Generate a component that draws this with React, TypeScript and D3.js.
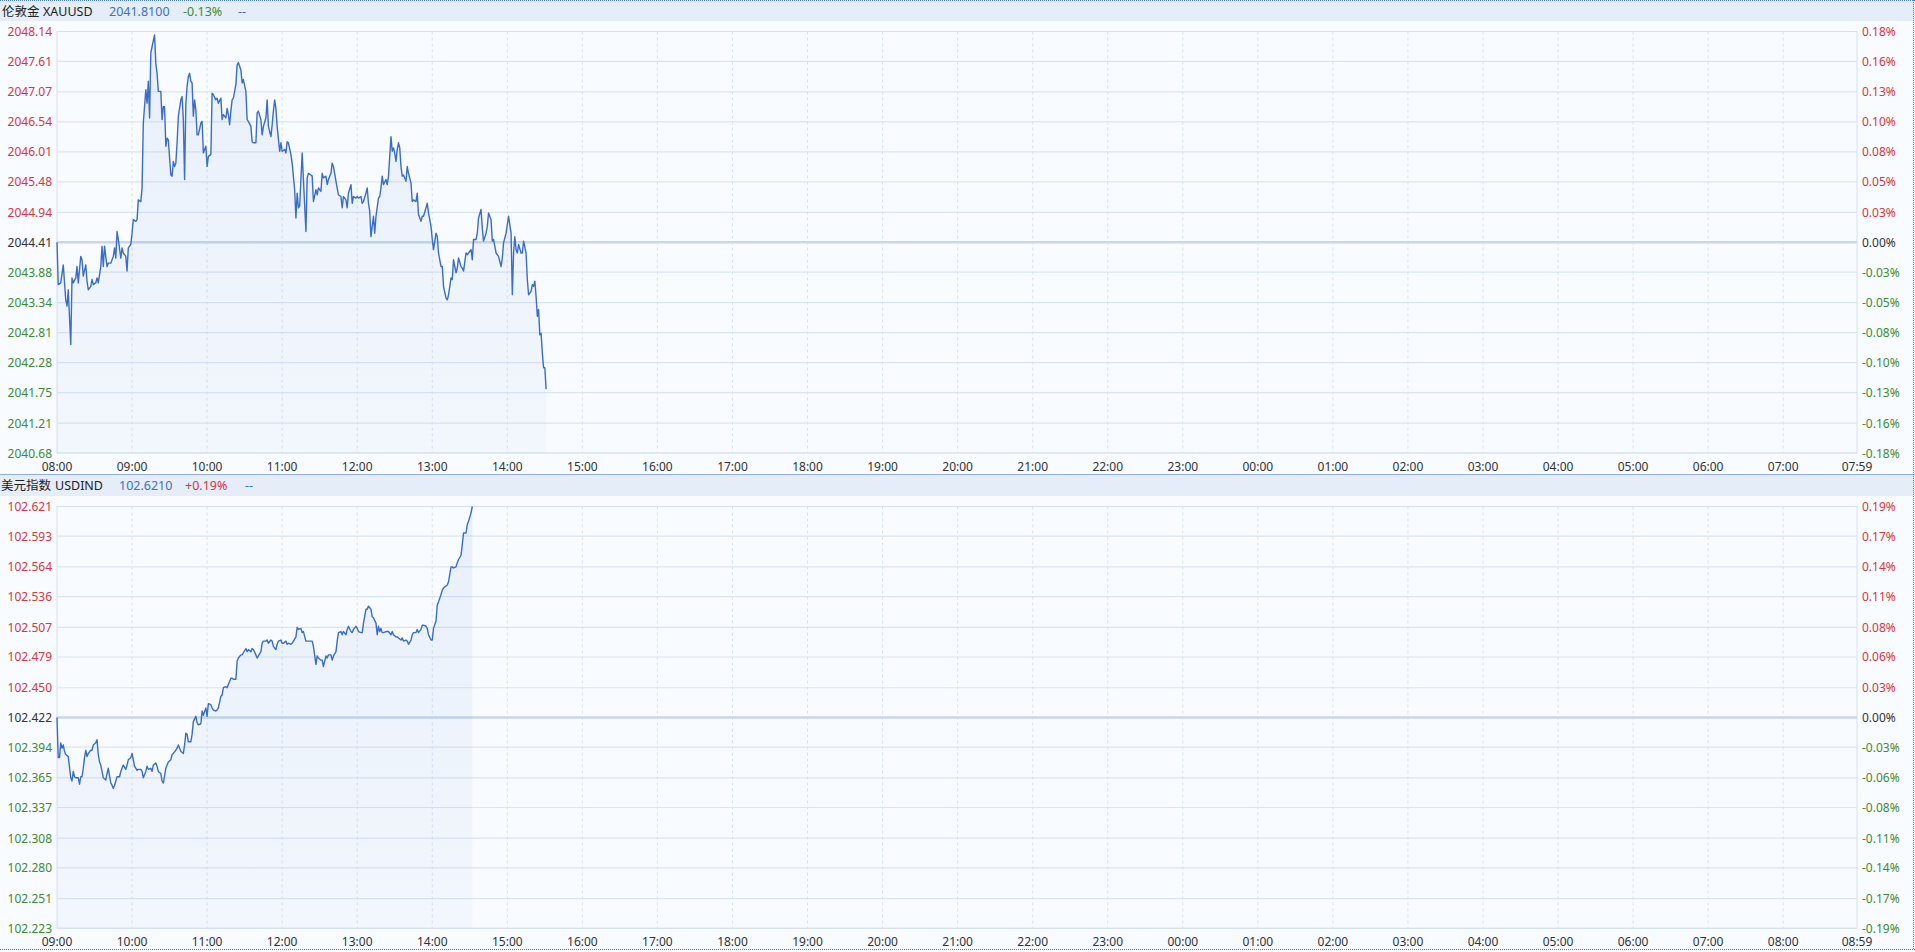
import React from 'react';
import * as d3 from 'd3';

const WIDTH = 1915;
const HEIGHT = 952;

// ---------- Panel 1: 伦敦金 XAUUSD ----------
const goldName = '伦敦金';
const goldCode = 'XAUUSD';
const goldLast = '2041.8100';
const goldChange = '-0.13%';
const goldPrevClose = 2044.41;
const goldPriceTicks = [2048.14, 2047.61, 2047.07, 2046.54, 2046.01, 2045.48, 2044.94, 2044.41, 2043.88, 2043.34, 2042.81, 2042.28, 2041.75, 2041.21, 2040.68];
const goldPctTicks = ['0.18%', '0.16%', '0.13%', '0.10%', '0.08%', '0.05%', '0.03%', '0.00%', '-0.03%', '-0.05%', '-0.08%', '-0.10%', '-0.13%', '-0.16%', '-0.18%'];
const goldTimeLabels = ['08:00', '09:00', '10:00', '11:00', '12:00', '13:00', '14:00', '15:00', '16:00', '17:00', '18:00', '19:00', '20:00', '21:00', '22:00', '23:00', '00:00', '01:00', '02:00', '03:00', '04:00', '05:00', '06:00', '07:00', '07:59'];
// [minutes since 08:00, price]
const goldSeries: [number, number][] = [
  [0, 2044.41], [1, 2043.66], [3, 2043.69], [5, 2044.01], [7, 2043.39], [8, 2043.28], [9, 2043.57], [11, 2042.60],
  [12, 2043.78], [13, 2043.69], [15, 2043.78], [16, 2043.98], [17, 2043.69], [19, 2044.16], [20, 2044.10], [21, 2043.81],
  [23, 2044.01], [24, 2043.72], [25, 2043.57], [27, 2043.63], [28, 2043.75], [29, 2043.66], [31, 2043.69], [32, 2043.78],
  [33, 2043.69], [35, 2043.98], [36, 2044.34], [37, 2043.98], [38, 2044.34], [40, 2043.98], [41, 2044.04], [43, 2044.04],
  [45, 2044.16], [46, 2044.31], [47, 2044.13], [48, 2044.60], [49, 2044.46], [51, 2044.13], [52, 2044.31], [53, 2044.22],
  [55, 2044.16], [56, 2043.90], [57, 2044.31], [59, 2044.37], [60, 2044.57], [61, 2044.81], [63, 2044.78], [64, 2044.81],
  [65, 2045.16], [67, 2045.13], [68, 2045.37], [69, 2046.52], [71, 2047.11], [72, 2046.87], [73, 2047.26], [74, 2046.61],
  [75, 2047.76], [76, 2047.87], [78, 2048.08], [79, 2047.58], [80, 2047.40], [81, 2047.08], [83, 2047.08], [84, 2046.58],
  [85, 2046.81], [86, 2046.81], [87, 2046.11], [88, 2046.25], [89, 2046.22], [91, 2045.60], [92, 2045.58], [93, 2045.84],
  [94, 2045.75], [95, 2045.81], [96, 2046.17], [97, 2046.64], [99, 2046.93], [100, 2046.99], [101, 2046.58], [102, 2045.52],
  [103, 2046.87], [104, 2047.17], [105, 2047.34], [106, 2047.40], [107, 2047.26], [108, 2047.23], [109, 2046.64], [110, 2046.93],
  [111, 2046.75], [112, 2046.31], [113, 2046.31], [115, 2046.52], [116, 2046.55], [117, 2045.99], [119, 2046.11], [120, 2045.75],
  [121, 2045.93], [123, 2045.96], [124, 2047.05], [125, 2047.02], [127, 2046.93], [128, 2046.96], [129, 2046.87], [131, 2046.96],
  [132, 2046.58], [133, 2046.67], [135, 2046.61], [136, 2046.78], [137, 2046.67], [138, 2046.49], [139, 2046.73], [140, 2046.93],
  [141, 2046.96], [143, 2047.20], [144, 2047.55], [145, 2047.59], [147, 2047.46], [148, 2047.23], [149, 2047.29], [151, 2047.08],
  [152, 2046.58], [153, 2046.55], [155, 2046.46], [156, 2046.19], [157, 2046.17], [159, 2046.17], [160, 2046.70], [161, 2046.73],
  [163, 2046.58], [164, 2046.31], [165, 2046.46], [167, 2046.61], [168, 2046.93], [169, 2046.46], [171, 2046.28], [172, 2046.49],
  [173, 2046.73], [174, 2046.93], [175, 2046.78], [176, 2046.46], [178, 2046.02], [179, 2046.17], [180, 2046.02], [182, 2046.05],
  [183, 2045.99], [184, 2046.19], [185, 2046.17], [187, 2045.96], [188, 2045.81], [190, 2045.34], [191, 2044.84], [192, 2045.28],
  [193, 2045.02], [194, 2045.05], [195, 2045.52], [196, 2045.99], [197, 2045.52], [199, 2044.60], [200, 2045.55], [201, 2045.63],
  [203, 2045.60], [204, 2045.58], [205, 2045.13], [207, 2045.34], [208, 2045.25], [209, 2045.37], [211, 2045.31], [212, 2045.63],
  [213, 2045.55], [215, 2045.58], [216, 2045.43], [217, 2045.52], [219, 2045.63], [220, 2045.81], [221, 2045.75], [223, 2045.49],
  [224, 2045.37], [225, 2045.25], [227, 2045.22], [228, 2045.02], [229, 2045.22], [231, 2045.16], [232, 2045.02], [233, 2045.28],
  [235, 2045.43], [236, 2045.10], [237, 2045.22], [239, 2045.19], [240, 2045.22], [241, 2045.19], [243, 2045.22], [244, 2045.10],
  [245, 2045.13], [247, 2045.28], [248, 2045.37], [249, 2045.10], [250, 2044.96], [251, 2044.51], [253, 2044.87], [254, 2044.57],
  [255, 2044.87], [257, 2045.19], [258, 2045.22], [259, 2045.37], [260, 2045.58], [261, 2045.43], [263, 2045.52], [264, 2045.43],
  [265, 2045.58], [267, 2046.28], [268, 2046.02], [269, 2046.08], [270, 2045.99], [271, 2045.84], [272, 2046.05], [273, 2046.17],
  [274, 2046.08], [275, 2045.75], [276, 2045.58], [277, 2045.60], [279, 2045.49], [280, 2045.75], [281, 2045.63], [283, 2045.46],
  [284, 2045.13], [285, 2045.16], [287, 2045.13], [288, 2045.28], [289, 2044.90], [291, 2044.78], [292, 2044.87], [293, 2044.87],
  [295, 2045.02], [296, 2045.10], [297, 2044.93], [299, 2044.69], [300, 2044.46], [301, 2044.28], [303, 2044.57], [304, 2044.51],
  [305, 2044.22], [307, 2043.98], [308, 2043.98], [309, 2043.63], [311, 2043.42], [312, 2043.39], [313, 2043.48], [315, 2043.78],
  [316, 2043.75], [317, 2044.10], [319, 2043.87], [320, 2043.95], [321, 2044.13], [323, 2043.98], [324, 2043.95], [325, 2043.90],
  [327, 2044.22], [328, 2044.19], [329, 2044.22], [331, 2044.28], [332, 2044.10], [333, 2044.46], [335, 2044.46], [336, 2044.57],
  [337, 2044.84], [339, 2044.99], [340, 2044.66], [341, 2044.43], [343, 2044.57], [344, 2044.69], [345, 2044.93], [347, 2044.81],
  [348, 2044.43], [349, 2044.46], [351, 2044.22], [352, 2044.19], [353, 2044.16], [355, 2043.98], [356, 2044.13], [357, 2044.40],
  [359, 2044.57], [360, 2044.72], [361, 2044.87], [363, 2044.57], [364, 2043.48], [365, 2044.22], [366, 2044.51], [367, 2044.28],
  [368, 2044.22], [369, 2044.37], [371, 2044.22], [372, 2044.22], [373, 2044.43], [375, 2044.22], [376, 2043.75], [377, 2043.48],
  [379, 2043.54], [380, 2043.66], [381, 2043.63], [382, 2043.72], [383, 2043.45], [384, 2043.10], [385, 2043.22], [386, 2042.77],
  [387, 2042.80], [388, 2042.45], [389, 2042.19], [390, 2042.19], [391, 2041.81],
];

// ---------- Panel 2: 美元指数 USDIND ----------
const usdName = '美元指数';
const usdCode = 'USDIND';
const usdLast = '102.6210';
const usdChange = '+0.19%';
const usdPrevClose = 102.422;
const usdPriceTicks = [102.621, 102.593, 102.564, 102.536, 102.507, 102.479, 102.450, 102.422, 102.394, 102.365, 102.337, 102.308, 102.280, 102.251, 102.223];
const usdPctTicks = ['0.19%', '0.17%', '0.14%', '0.11%', '0.08%', '0.06%', '0.03%', '0.00%', '-0.03%', '-0.06%', '-0.08%', '-0.11%', '-0.14%', '-0.17%', '-0.19%'];
const usdTimeLabels = ['09:00', '10:00', '11:00', '12:00', '13:00', '14:00', '15:00', '16:00', '17:00', '18:00', '19:00', '20:00', '21:00', '22:00', '23:00', '00:00', '01:00', '02:00', '03:00', '04:00', '05:00', '06:00', '07:00', '08:00', '08:59'];
// [minutes since 09:00, value]
const usdSeries: [number, number][] = [
  [0, 102.422], [1, 102.384], [2, 102.384], [3, 102.398], [4, 102.393], [5, 102.396], [6, 102.390], [7, 102.387],
  [9, 102.385], [11, 102.365], [12, 102.362], [13, 102.371], [14, 102.366], [15, 102.365], [17, 102.365], [18, 102.359],
  [19, 102.366], [20, 102.366], [21, 102.374], [22, 102.384], [23, 102.391], [24, 102.385], [25, 102.388], [27, 102.391],
  [28, 102.391], [29, 102.396], [31, 102.398], [32, 102.401], [33, 102.387], [34, 102.380], [35, 102.377], [36, 102.371],
  [37, 102.365], [39, 102.363], [40, 102.369], [41, 102.374], [43, 102.360], [44, 102.358], [45, 102.355], [46, 102.358],
  [48, 102.366], [50, 102.366], [51, 102.371], [52, 102.374], [53, 102.377], [55, 102.373], [56, 102.377], [57, 102.382],
  [59, 102.384], [60, 102.388], [61, 102.382], [62, 102.376], [64, 102.372], [65, 102.373], [67, 102.373], [68, 102.371],
  [69, 102.365], [71, 102.371], [72, 102.376], [73, 102.373], [75, 102.374], [76, 102.371], [77, 102.377], [79, 102.379],
  [80, 102.376], [81, 102.371], [83, 102.369], [84, 102.362], [85, 102.360], [87, 102.374], [88, 102.377], [89, 102.380],
  [91, 102.382], [92, 102.387], [93, 102.388], [95, 102.391], [96, 102.393], [97, 102.396], [98, 102.393], [99, 102.390],
  [101, 102.388], [102, 102.396], [103, 102.407], [104, 102.406], [105, 102.399], [107, 102.399], [108, 102.406], [109, 102.418],
  [111, 102.423], [112, 102.417], [113, 102.415], [115, 102.416], [116, 102.428], [117, 102.424], [119, 102.431], [120, 102.423],
  [121, 102.435], [123, 102.434], [124, 102.431], [125, 102.429], [127, 102.428], [128, 102.429], [129, 102.431], [131, 102.442],
  [132, 102.443], [133, 102.450], [135, 102.451], [136, 102.450], [137, 102.453], [139, 102.459], [140, 102.459], [141, 102.458],
  [143, 102.458], [144, 102.475], [145, 102.478], [147, 102.481], [148, 102.481], [149, 102.483], [151, 102.487], [152, 102.484],
  [153, 102.486], [155, 102.484], [156, 102.487], [157, 102.486], [159, 102.481], [160, 102.478], [161, 102.480], [163, 102.484],
  [164, 102.492], [165, 102.494], [167, 102.494], [168, 102.495], [169, 102.492], [171, 102.495], [172, 102.494], [173, 102.489],
  [175, 102.486], [176, 102.491], [177, 102.494], [179, 102.495], [180, 102.492], [181, 102.492], [183, 102.494], [184, 102.491],
  [185, 102.492], [187, 102.491], [188, 102.492], [189, 102.494], [191, 102.498], [192, 102.507], [193, 102.505], [195, 102.506],
  [196, 102.502], [197, 102.503], [199, 102.494], [200, 102.494], [201, 102.494], [203, 102.494], [204, 102.494], [205, 102.489],
  [207, 102.472], [208, 102.480], [209, 102.478], [211, 102.476], [212, 102.476], [213, 102.470], [215, 102.480], [216, 102.478],
  [217, 102.481], [219, 102.481], [220, 102.476], [221, 102.480], [223, 102.484], [224, 102.494], [225, 102.502], [227, 102.503],
  [228, 102.500], [229, 102.503], [231, 102.500], [232, 102.505], [233, 102.508], [235, 102.503], [236, 102.502], [237, 102.505],
  [239, 102.508], [240, 102.506], [241, 102.503], [243, 102.502], [244, 102.502], [245, 102.511], [247, 102.524], [248, 102.524],
  [249, 102.527], [251, 102.524], [252, 102.517], [253, 102.516], [255, 102.511], [256, 102.500], [257, 102.508], [258, 102.503],
  [259, 102.506], [260, 102.502], [261, 102.502], [263, 102.503], [264, 102.503], [265, 102.503], [267, 102.500], [268, 102.503],
  [269, 102.500], [271, 102.498], [272, 102.498], [273, 102.497], [275, 102.495], [276, 102.497], [277, 102.494], [279, 102.495],
  [280, 102.494], [281, 102.491], [283, 102.495], [284, 102.500], [285, 102.502], [287, 102.502], [288, 102.505], [289, 102.502],
  [291, 102.505], [292, 102.509], [293, 102.509], [295, 102.508], [296, 102.506], [297, 102.500], [299, 102.495], [300, 102.495],
  [301, 102.506], [303, 102.513], [304, 102.528], [305, 102.531], [307, 102.538], [308, 102.542], [309, 102.544], [311, 102.546],
  [312, 102.547], [313, 102.550], [315, 102.564], [316, 102.564], [317, 102.563], [319, 102.564], [320, 102.568], [321, 102.571],
  [323, 102.575], [324, 102.585], [325, 102.596], [327, 102.596], [328, 102.604], [329, 102.607], [331, 102.615], [332, 102.621],
];

const FONT = '"Noto Sans", "Noto Sans CJK SC", sans-serif';
const RED = '#d8363c';
const GREEN = '#3d8c30';
const DARK = '#333';
const BLUE_TEXT = '#3c72c4';
const LINE = '#3a6dc8';

const PLOT_LEFT = 57;
const PLOT_RIGHT = 1857;

type PanelProps = {
  id: string;
  headerTop: number;
  headerBottom: number;
  plotTop: number;
  plotBottom: number;
  xLabelY: number;
  name: string;
  code: string;
  last: string;
  change: string;
  changeColor: string;
  textX: number[];
  prevClose: number;
  priceTicks: number[];
  pctTicks: string[];
  timeLabels: string[];
  series: [number, number][];
  decimals: number;
};

function Panel(p: PanelProps) {
  const x = d3.scaleLinear().domain([0, 1439]).range([PLOT_LEFT, PLOT_RIGHT]);
  const y = d3
    .scaleLinear()
    .domain([d3.min(p.priceTicks)!, d3.max(p.priceTicks)!])
    .range([p.plotBottom, p.plotTop]);
  const line = d3
    .line<[number, number]>()
    .x((d) => x(d[0]))
    .y((d) => y(d[1]));
  const area = d3
    .area<[number, number]>()
    .x((d) => x(d[0]))
    .y0(p.plotBottom)
    .y1((d) => y(d[1]));
  const tickMinutes = p.timeLabels.map((_, i) => (i === p.timeLabels.length - 1 ? 1439 : i * 60));
  const colorFor = (v: number) =>
    Math.abs(v - p.prevClose) < 1e-9 ? DARK : v > p.prevClose ? RED : GREEN;
  const pctColor = (s: string) => (s === '0.00%' ? DARK : s.startsWith('-') ? GREEN : RED);
  const headerMid = (p.headerTop + p.headerBottom) / 2;
  return (
    <g>
      <defs>
        <linearGradient id={`grad-${p.id}`} x1="0" y1="0" x2="0" y2="1">
          <stop offset="0%" stopColor="#3c6ec8" stopOpacity={0.08} />
          <stop offset="100%" stopColor="#3c6ec8" stopOpacity={0.03} />
        </linearGradient>
      </defs>
      <rect x={0} y={p.headerTop} width={WIDTH} height={p.headerBottom - p.headerTop} fill="#e5edf8" />
      <text x={p.textX[0]} y={headerMid} dominantBaseline="central" fontSize={12.5} fill="#222" fontFamily={FONT}>{p.name}</text>
      <text x={p.textX[1]} y={headerMid} dominantBaseline="central" fontSize={12.5} fill="#222" fontFamily={FONT}>{p.code}</text>
      <text x={p.textX[2]} y={headerMid} dominantBaseline="central" fontSize={12.5} fill={BLUE_TEXT} fontFamily={FONT}>{p.last}</text>
      <text x={p.textX[3]} y={headerMid} dominantBaseline="central" fontSize={12.5} fill={p.changeColor} fontFamily={FONT}>{p.change}</text>
      <text x={p.textX[4]} y={headerMid} dominantBaseline="central" fontSize={12.5} fill={BLUE_TEXT} fontFamily={FONT}>--</text>

      {/* horizontal grid */}
      {p.priceTicks.map((t, i) => (
        <line key={`h${i}`} x1={PLOT_LEFT} x2={PLOT_RIGHT} y1={y(t)} y2={y(t)} stroke="#dbe5f2" strokeWidth={1.2} />
      ))}
      {/* vertical grid */}
      {tickMinutes.slice(1, -1).map((m, i) => (
        <line key={`v${i}`} x1={x(m)} x2={x(m)} y1={p.plotTop} y2={p.plotBottom} stroke="#d6e2f1" strokeWidth={1} strokeDasharray="3,3" />
      ))}
      <rect x={PLOT_LEFT} y={p.plotTop} width={PLOT_RIGHT - PLOT_LEFT} height={p.plotBottom - p.plotTop} fill="none" stroke="#d6e1f0" strokeWidth={1} />
      {/* base line */}
      <line x1={PLOT_LEFT} x2={PLOT_RIGHT} y1={y(p.prevClose)} y2={y(p.prevClose)} stroke="#c6d7ee" strokeWidth={2.5} />

      <path d={area(p.series) || ''} fill={`url(#grad-${p.id})`} />
      <path d={line(p.series) || ''} fill="none" stroke={LINE} strokeWidth={1.4} strokeLinejoin="round" />

      {/* left axis */}
      {p.priceTicks.map((t, i) => (
        <text key={`l${i}`} x={52} y={y(t)} textAnchor="end" dominantBaseline="central" fontSize={12} fill={colorFor(t)} fontFamily={FONT}>
          {t.toFixed(p.decimals)}
        </text>
      ))}
      {/* right axis */}
      {p.pctTicks.map((s, i) => (
        <text key={`r${i}`} x={1862} y={y(p.priceTicks[i])} textAnchor="start" dominantBaseline="central" fontSize={12} fill={pctColor(s)} fontFamily={FONT}>
          {s}
        </text>
      ))}
      {/* time axis */}
      {p.timeLabels.map((s, i) => (
        <text key={`t${i}`} x={x(tickMinutes[i])} y={p.xLabelY} textAnchor="middle" dominantBaseline="central" fontSize={12} fill={DARK} fontFamily={FONT}>
          {s}
        </text>
      ))}
    </g>
  );
}

export default function App() {
  return (
    <svg
      width={WIDTH}
      height={HEIGHT}
      style={{ position: 'absolute', left: 0, top: 0, display: 'block', background: '#f8fbff' }}
    >
      <rect x={0} y={0} width={WIDTH} height={HEIGHT} fill="#f8fbff" />
      <Panel
        id="gold"
        headerTop={1}
        headerBottom={21}
        plotTop={31.5}
        plotBottom={453}
        xLabelY={466}
        name={goldName}
        code={goldCode}
        last={goldLast}
        change={goldChange}
        changeColor={GREEN}
        textX={[2, 43, 109, 183, 238]}
        prevClose={goldPrevClose}
        priceTicks={goldPriceTicks}
        pctTicks={goldPctTicks}
        timeLabels={goldTimeLabels}
        series={goldSeries}
        decimals={2}
      />
      <line x1={0} x2={WIDTH} y1={474.5} y2={474.5} stroke="#8fb0dd" strokeWidth={1} />
      <Panel
        id="usd"
        headerTop={475}
        headerBottom={496}
        plotTop={506.5}
        plotBottom={928.3}
        xLabelY={941}
        name={usdName}
        code={usdCode}
        last={usdLast}
        change={usdChange}
        changeColor={RED}
        textX={[1, 55, 119, 185, 245]}
        prevClose={usdPrevClose}
        priceTicks={usdPriceTicks}
        pctTicks={usdPctTicks}
        timeLabels={usdTimeLabels}
        series={usdSeries}
        decimals={3}
      />
      <line x1={0} x2={WIDTH} y1={0.5} y2={0.5} stroke="#4d7fc8" strokeWidth={1} strokeDasharray="1,1" />
      <line x1={0} x2={WIDTH} y1={949.5} y2={949.5} stroke="#4d7fc8" strokeWidth={1} strokeDasharray="1,1" />
      <line x1={1913.5} x2={1913.5} y1={0} y2={950} stroke="#4d7fc8" strokeWidth={1} strokeDasharray="1,1" />
    </svg>
  );
}
